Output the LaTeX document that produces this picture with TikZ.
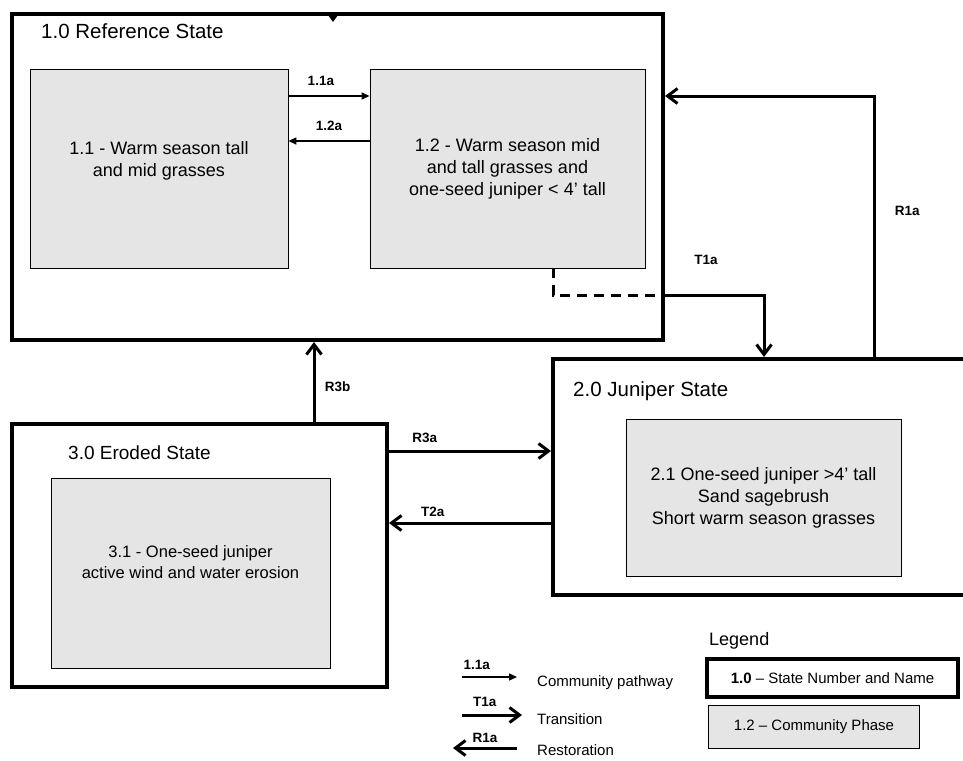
\documentclass[tikz,border=0pt]{standalone}
\usepackage{fontspec}
\setmainfont{Liberation Sans}
\usetikzlibrary{arrows.meta}

\tikzset{
    statebox/.style={draw,line width=4pt,inner sep=0pt},
    phasebox/.style={draw,line width=0.8pt,fill=gray!20,inner sep=0pt,align=center,font=\fontsize{18}{22}\selectfont},
    phasetext/.style={align=center,inner sep=0pt,font=\fontsize{18}{22}\selectfont},
    statetitle/.style={anchor=base west,inner sep=0pt,font=\fontsize{20.5}{24}\selectfont},
    tag/.style={font=\bfseries\fontsize{13.5}{16}\selectfont},
    pathway/.style={line width=1.3pt,-{Triangle[length=8pt,width=7pt]}},
    transit/.style={line width=3pt,-{Straight Barb[length=10pt,width=15pt]}},
    legendtext/.style={anchor=base west,inner sep=0pt,font=\fontsize{15}{18}\selectfont}
}

\begin{document}
\begin{tikzpicture}[x=1pt,y=-1pt]
            \path[use as bounding box,fill=white] (0,0) rectangle (963,760);
            \clip (0,0) rectangle (963,760);

            \node[statebox,minimum width=651pt,minimum height=326pt] (ref) at (337.5,177) {};
            \node[statetitle] (reftitle) at (41,39) {1.0 Reference State};
            \fill (328,15) -- (338,15) -- (333,22) -- cycle;
            \node[phasebox,minimum width=258pt,minimum height=199pt] (p11) at (159,168.5) {};
            \node[phasetext] (p11txt) at (159,160.5) {1.1 - Warm season tall\\and mid grasses};
            \node[phasebox,minimum width=275pt,minimum height=199pt] (p12) at (507.5,168.5) {1.2 - Warm season mid\\and tall grasses and\\one-seed juniper < 4’ tall};

            \node[statebox,minimum width=437pt,minimum height=236pt] (juni) at (771.5,477) {};
            \node[statetitle] (junititle) at (573,396) {2.0 Juniper State};
            \node[phasebox,minimum width=275pt,minimum height=157pt] (p21) at (763.5,497.5) {2.1 One-seed juniper >4’ tall\\Sand sagebrush\\Short warm season grasses};

            \node[statebox,minimum width=375pt,minimum height=263pt] (erod) at (199.5,555.5) {};
            \node[statetitle,font=\fontsize{19}{23}\selectfont] (erodtitle) at (68,459) {3.0 Eroded State};
            \node[phasebox,minimum width=279pt,minimum height=190pt] (p31) at (190.5,573) {};
            \node[phasetext,font=\fontsize{16.5}{21}\selectfont] (p31txt) at (190.5,562.5) {3.1 - One-seed juniper\\active wind and water erosion};

            \draw[pathway] (p11.east |- 0,96) -- node[tag,above=6pt,pos=0.4] (lab11a) {1.1a} (p12.west |- 0,96);
            \draw[pathway] (p12.west |- 0,141) -- node[tag,above=6pt] (lab12a) {1.2a} (p11.east |- 0,141);

            \draw[line width=3pt,dash pattern=on 10pt off 7pt] (p12.south -| 553,0) -- (553,295) -- (ref.east |- 0,295);
            \draw[transit] (ref.east |- 0,295) -- (764,295) -- (juni.north -| 764,0);
            \node[tag] (labt1a) at (706,260) {T1a};
            \draw[transit] (juni.north -| 874,0) -- node[tag,right=16pt,pos=0.56] (labr1a) {R1a} (874,96) -- (ref.east |- 0,96);

            \draw[transit] (erod.north -| 314,0) -- node[tag,right=6pt,pos=0.44] (labr3b) {R3b} (ref.south -| 314,0);
            \draw[transit] (erod.east |- 0,451) -- node[tag,above=4pt,pos=0.22] (labr3a) {R3a} (juni.west |- 0,451);
            \draw[transit] (juni.west |- 0,523) -- node[tag,above=2pt,pos=0.73] (labt2a) {T2a} (erod.east |- 0,523);

            \node[anchor=base west,inner sep=0pt,font=\fontsize{18}{22}\selectfont] (legtitle) at (709,645) {Legend};
            \node[statebox,line width=3.4pt,minimum width=251pt,minimum height=38pt,font=\fontsize{15}{18}\selectfont] (legstate) at (832.5,678) {\textbf{1.0} – State Number and Name};
            \node[phasebox,minimum width=211pt,minimum height=43pt,font=\fontsize{15}{18}\selectfont] (legphase) at (814,726.5) {1.2 – Community Phase};

            \coordinate (lpa) at (462,677);
            \coordinate (lpb) at (517,677);
            \draw[pathway] (lpa) -- node[tag,above=3pt,pos=0.27] (leg11a) {1.1a} (lpb);
            \node[legendtext] (legpath) at (537,686) {Community pathway};
            \coordinate (lta) at (462,715);
            \coordinate (ltb) at (522,715);
            \draw[transit] (lta) -- node[tag,above=4pt,pos=0.38] (legt1a) {T1a} (ltb);
            \node[legendtext] (legtrans) at (537,724) {Transition};
            \coordinate (lra) at (517,748);
            \coordinate (lrb) at (453,748);
            \draw[transit] (lra) -- node[tag,above=1pt] (legr1a) {R1a} (lrb);
            \node[legendtext] (legrest) at (537,755.5) {Restoration};
        \end{tikzpicture}
\end{document}
